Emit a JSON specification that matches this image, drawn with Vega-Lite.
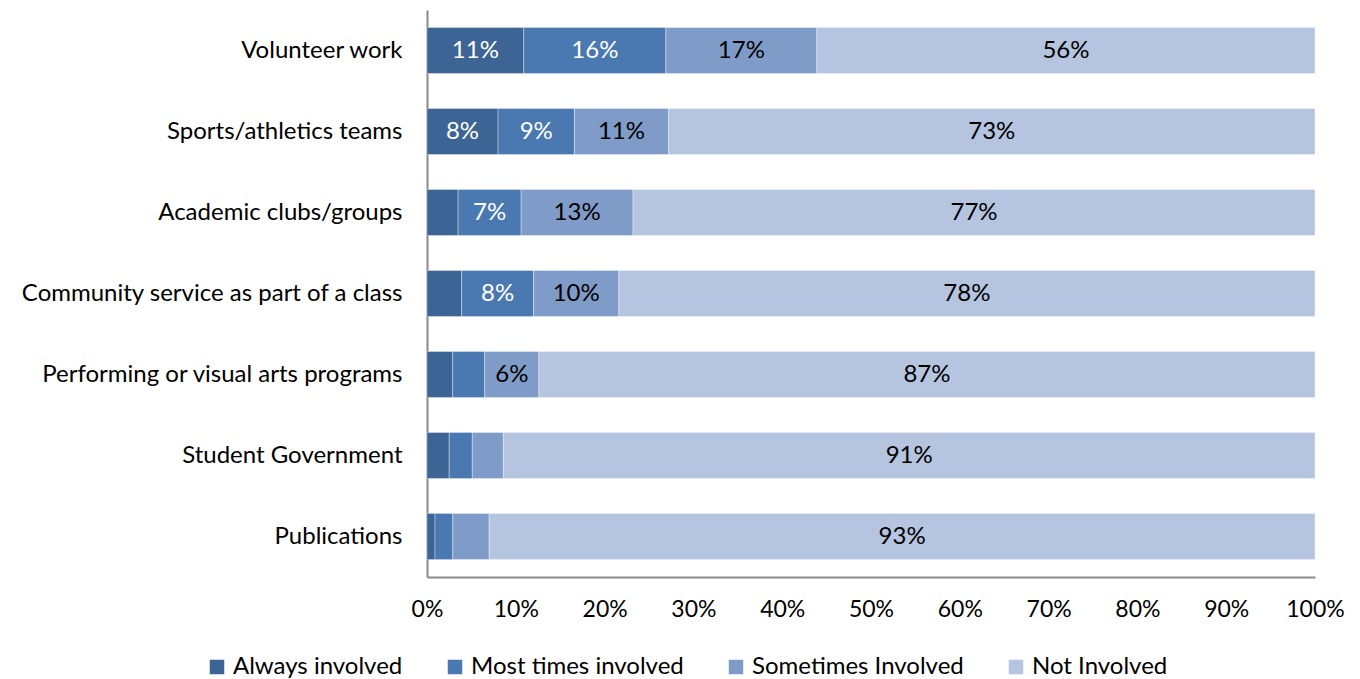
{
  "$schema": "https://vega.github.io/schema/vega-lite/v6.json",
  "autosize": "none",
  "width": 888,
  "height": 567,
  "padding": {"left": 427, "top": 10, "right": 45, "bottom": 102},
  "config": {"view": {"stroke": null}, "font": "Lato"},
  "data": {"values": [
    {"activity": "Volunteer work", "level": "Always involved", "o": 1, "value": 0.109},
    {"activity": "Volunteer work", "level": "Most times involved", "o": 2, "value": 0.16},
    {"activity": "Volunteer work", "level": "Sometimes Involved", "o": 3, "value": 0.17},
    {"activity": "Volunteer work", "level": "Not Involved", "o": 4, "value": 0.561},
    {"activity": "Sports/athletics teams", "level": "Always involved", "o": 1, "value": 0.08},
    {"activity": "Sports/athletics teams", "level": "Most times involved", "o": 2, "value": 0.086},
    {"activity": "Sports/athletics teams", "level": "Sometimes Involved", "o": 3, "value": 0.106},
    {"activity": "Sports/athletics teams", "level": "Not Involved", "o": 4, "value": 0.728},
    {"activity": "Academic clubs/groups", "level": "Always involved", "o": 1, "value": 0.035},
    {"activity": "Academic clubs/groups", "level": "Most times involved", "o": 2, "value": 0.071},
    {"activity": "Academic clubs/groups", "level": "Sometimes Involved", "o": 3, "value": 0.126},
    {"activity": "Academic clubs/groups", "level": "Not Involved", "o": 4, "value": 0.768},
    {"activity": "Community service as part of a class", "level": "Always involved", "o": 1, "value": 0.039},
    {"activity": "Community service as part of a class", "level": "Most times involved", "o": 2, "value": 0.081},
    {"activity": "Community service as part of a class", "level": "Sometimes Involved", "o": 3, "value": 0.096},
    {"activity": "Community service as part of a class", "level": "Not Involved", "o": 4, "value": 0.784},
    {"activity": "Performing or visual arts programs", "level": "Always involved", "o": 1, "value": 0.029},
    {"activity": "Performing or visual arts programs", "level": "Most times involved", "o": 2, "value": 0.036},
    {"activity": "Performing or visual arts programs", "level": "Sometimes Involved", "o": 3, "value": 0.061},
    {"activity": "Performing or visual arts programs", "level": "Not Involved", "o": 4, "value": 0.874},
    {"activity": "Student Government", "level": "Always involved", "o": 1, "value": 0.025},
    {"activity": "Student Government", "level": "Most times involved", "o": 2, "value": 0.026},
    {"activity": "Student Government", "level": "Sometimes Involved", "o": 3, "value": 0.035},
    {"activity": "Student Government", "level": "Not Involved", "o": 4, "value": 0.914},
    {"activity": "Publications", "level": "Always involved", "o": 1, "value": 0.009},
    {"activity": "Publications", "level": "Most times involved", "o": 2, "value": 0.02},
    {"activity": "Publications", "level": "Sometimes Involved", "o": 3, "value": 0.041},
    {"activity": "Publications", "level": "Not Involved", "o": 4, "value": 0.93}
  ]},
  "encoding": {
    "y": {
      "field": "activity", "type": "nominal", "sort": null,
      "scale": {"paddingInner": 0.43, "paddingOuter": 0.215},
      "axis": {"title": null, "ticks": false, "labelFontSize": 24, "labelColor": "#000000", "labelPadding": 25, "domainColor": "#898989", "domainWidth": 2, "labelLimit": 500}
    },
    "x": {
      "field": "value", "type": "quantitative", "stack": "zero",
      "scale": {"domain": [0, 1], "nice": false},
      "axis": {"title": null, "format": ".0%", "values": [0, 0.1, 0.2, 0.3, 0.4, 0.5, 0.6, 0.7, 0.8, 0.9, 1.0], "grid": false, "ticks": false, "labelFontSize": 23, "labelColor": "#000000", "labelPadding": 21, "domainColor": "#898989", "domainWidth": 2, "labelFlush": false, "labelOverlap": false}
    },
    "order": {"field": "o", "type": "quantitative"}
  },
  "layer": [
    {
      "mark": {"type": "bar", "stroke": "#ffffff", "strokeWidth": 0.6, "strokeOpacity": 0.6},
      "encoding": {
        "color": {
          "field": "level", "type": "nominal",
          "scale": {"domain": ["Always involved", "Most times involved", "Sometimes Involved", "Not Involved"], "range": ["#3C6494", "#4A78B0", "#7F9CC8", "#B5C4DF"]},
          "legend": {"title": null, "orient": "none", "legendX": -222, "legendY": 645, "direction": "horizontal", "columns": 4, "symbolType": "square", "symbolSize": 210, "symbolStrokeWidth": 0, "labelFontSize": 24, "labelColor": "#000000", "columnPadding": 40, "labelOffset": 4, "labelLimit": 400}
        }
      }
    },
    {
      "mark": {"type": "text", "fontSize": 24},
      "encoding": {
        "x": {"field": "value", "type": "quantitative", "stack": "zero", "bandPosition": 0.5},
        "text": {"condition": {"test": "datum.value >= 0.05", "field": "value", "type": "quantitative", "format": ".0%"}, "value": ""},
        "color": {"condition": {"test": "datum.o <= 2", "value": "#ffffff"}, "value": "#000000"}
      }
    }
  ]
}
